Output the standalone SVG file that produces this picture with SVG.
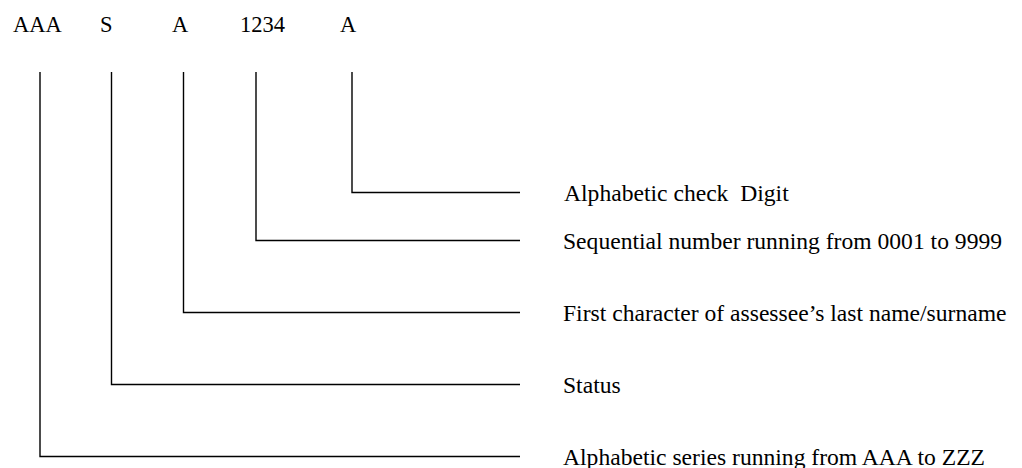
<svg xmlns="http://www.w3.org/2000/svg" width="1022" height="468" viewBox="0 0 1022 468">
<style>
text{font-family:"Liberation Serif","Times New Roman",serif;font-size:23.6px;fill:#000;white-space:pre}
.t{font-size:22.5px}
.c{fill:none;stroke:#000;stroke-width:1.4}
</style>
<rect width="1022" height="468" fill="#fff"/>
<g id="code">
<g id="n-aaa"><text class="t" x="13" y="32">AAA</text></g>
<g id="n-s"><text class="t" x="100" y="32">S</text></g>
<g id="n-a1"><text class="t" x="172" y="32">A</text></g>
<g id="n-1234"><text class="t" x="240" y="32">1234</text></g>
<g id="n-a2"><text class="t" x="340" y="32">A</text></g>
</g>
<g id="connectors">
<polyline class="c" points="352,72 352,192.5 520,192.5"/>
<polyline class="c" points="256,72 256,240.5 520,240.5"/>
<polyline class="c" points="183.5,72 183.5,312.5 520,312.5"/>
<polyline class="c" points="111.5,72 111.5,384.5 520,384.5"/>
<polyline class="c" points="40,72 40,456.5 520,456.5"/>
</g>
<g id="d-check"><text x="564" y="201" xml:space="preserve">Alphabetic check  Digit</text></g>
<g id="d-seq"><text x="563" y="249">Sequential number running from 0001 to 9999</text></g>
<g id="d-first"><text x="563" y="321">First character of assessee’s last name/surname</text></g>
<g id="d-status"><text x="563" y="393">Status</text></g>
<g id="d-series"><text x="563" y="465">Alphabetic series running from AAA to ZZZ</text></g>
</svg>
